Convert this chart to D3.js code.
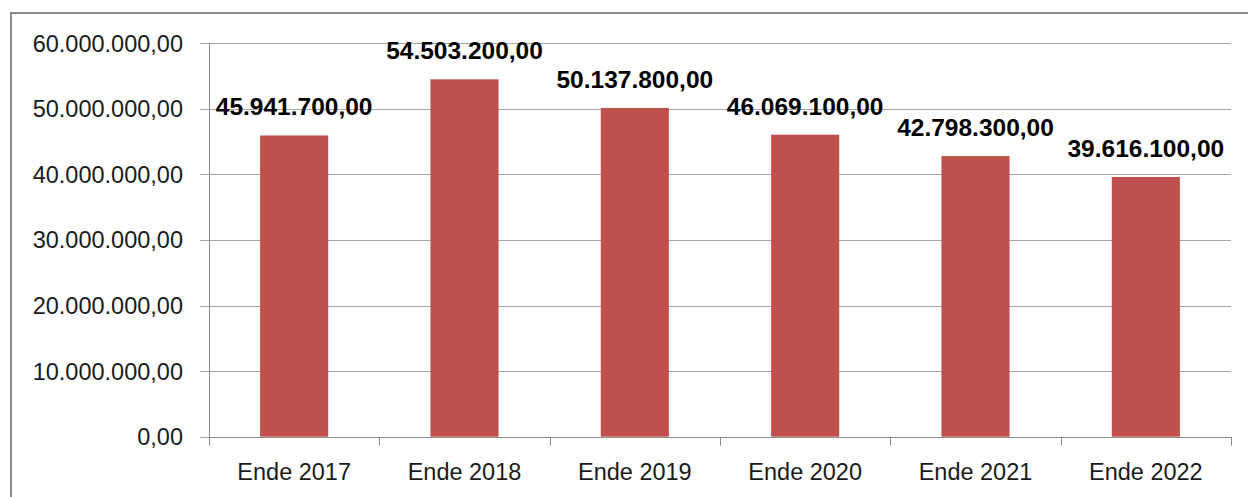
<!DOCTYPE html>
<html>
<head>
<meta charset="utf-8">
<script src="https://cdn.jsdelivr.net/npm/d3@7"></script>
<style>
  body { margin: 0; background: #fff; }
  svg { display: block; font-family: "Liberation Sans", Arial, sans-serif; }
</style>
</head>
<body>
<svg width="1248" height="497"></svg>
<script>
// chart data
var categories = ["Ende 2017", "Ende 2018", "Ende 2019", "Ende 2020", "Ende 2021", "Ende 2022"];
var values = [45941700, 54503200, 50137800, 46069100, 42798300, 39616100];
var yTicks = [0, 10000000, 20000000, 30000000, 40000000, 50000000, 60000000];

var svg = d3.select("svg"),
    width = +svg.attr("width"),
    height = +svg.attr("height");

// plot area
var plotLeft = 209, plotRight = 1231, plotTop = 43.3, plotBottom = 436.7;

var de = d3.formatLocale({ decimal: ",", thousands: ".", grouping: [3], currency: ["", " €"] });
var fmt = de.format(",.2f");

var x = d3.scaleBand()
    .domain(categories)
    .range([plotLeft, plotRight])
    .paddingInner(0.6)
    .paddingOuter(0.3);

var y = d3.scaleLinear()
    .domain([0, 60000000])
    .range([plotBottom, plotTop]);

// outer frame (right and bottom edges fall outside the picture)
svg.append("rect")
    .attr("x", 11)
    .attr("y", 13)
    .attr("width", width + 20)
    .attr("height", height + 20)
    .attr("fill", "none")
    .attr("stroke", "#8a8a8a")
    .attr("stroke-width", 2);

// gridlines, extended left as the y ticks
svg.append("g")
    .selectAll("line")
    .data(yTicks)
    .enter().append("line")
    .attr("x1", plotLeft - 9)
    .attr("x2", plotRight)
    .attr("y1", d => Math.round(y(d)) + 0.5)
    .attr("y2", d => Math.round(y(d)) + 0.5)
    .attr("stroke", "#a6a6a6")
    .attr("stroke-width", 1);

// y tick labels
svg.append("g")
    .selectAll("text")
    .data(yTicks)
    .enter().append("text")
    .attr("x", plotLeft - 26)
    .attr("y", d => y(d))
    .attr("dy", "0.36em")
    .attr("text-anchor", "end")
    .attr("font-size", "23.5px")
    .attr("fill", "#1a1a1a")
    .text(d => fmt(d));

// bars
svg.append("g")
    .selectAll("rect")
    .data(values)
    .enter().append("rect")
    .attr("x", (d, i) => x(categories[i]))
    .attr("width", x.bandwidth())
    .attr("y", d => y(d))
    .attr("height", d => y(0) - y(d))
    .attr("fill", "#c0504d");

// value labels
svg.append("g")
    .selectAll("text")
    .data(values)
    .enter().append("text")
    .attr("x", (d, i) => x(categories[i]) + x.bandwidth() / 2)
    .attr("y", d => y(d) - 20)
    .attr("text-anchor", "middle")
    .attr("font-size", "24.5px")
    .attr("font-weight", "bold")
    .attr("fill", "#000")
    .text(d => fmt(d));

// axes lines
var axisColor = "#8c8c8c";
svg.append("line")
    .attr("x1", plotLeft + 0.5).attr("x2", plotLeft + 0.5)
    .attr("y1", plotTop).attr("y2", plotBottom)
    .attr("stroke", axisColor);

svg.append("line")
    .attr("x1", plotLeft).attr("x2", plotRight)
    .attr("y1", Math.round(plotBottom) + 0.5).attr("y2", Math.round(plotBottom) + 0.5)
    .attr("stroke", axisColor);

// category boundary ticks
var boundaries = d3.range(categories.length + 1).map(i => plotLeft + i * x.step());
svg.append("g")
    .selectAll("line")
    .data(boundaries)
    .enter().append("line")
    .attr("x1", d => Math.round(d) + 0.5)
    .attr("x2", d => Math.round(d) + 0.5)
    .attr("y1", plotBottom)
    .attr("y2", plotBottom + 9)
    .attr("stroke", axisColor);

// category labels
svg.append("g")
    .selectAll("text")
    .data(categories)
    .enter().append("text")
    .attr("x", d => x(d) + x.bandwidth() / 2)
    .attr("y", 480)
    .attr("text-anchor", "middle")
    .attr("font-size", "23.5px")
    .attr("fill", "#1a1a1a")
    .text(d => d);
</script>
</body>
</html>
